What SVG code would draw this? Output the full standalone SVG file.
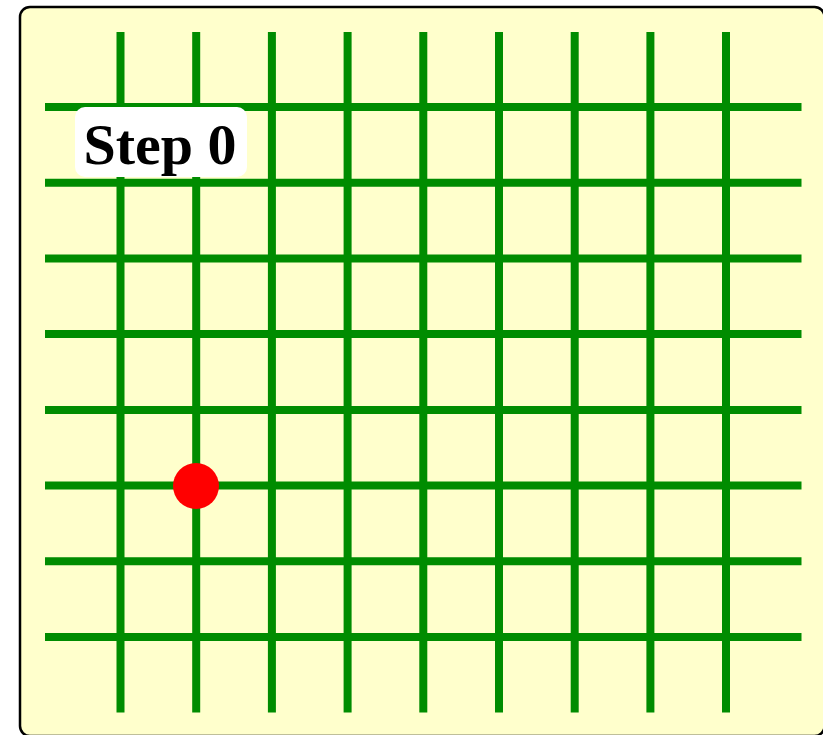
<svg xmlns="http://www.w3.org/2000/svg" width="823" height="735" viewBox="0 0 823 735">
<style>
.g{stroke:#008c00;stroke-width:8;fill:none}
.lbl{font-family:"Liberation Serif",serif;font-weight:bold;font-size:58px;fill:#000}
</style>
<rect x="20" y="7" width="804.5" height="729" rx="10" ry="10" fill="#ffffcc" stroke="#000" stroke-width="2.5"/>
<g id="grid" class="g">
<path d="M120.5 32V712.5M196.2 32V712.5M271.9 32V712.5M347.6 32V712.5M423.3 32V712.5M499 32V712.5M574.7 32V712.5M650.4 32V712.5M726 32V712.5"/>
<path d="M45 107H801.5M45 182.7H801.5M45 258.4H801.5M45 334.1H801.5M45 409.9H801.5M45 485.6H801.5M45 561.3H801.5M45 637H801.5"/>
</g>
<g id="label">
<rect x="75" y="107" width="172" height="70" rx="10" ry="10" fill="#fff"/>
<text class="lbl" x="160" y="164" text-anchor="middle">Step 0</text>
</g>
<g id="dot">
<circle cx="196" cy="486" r="23" fill="#ff0000"/>
</g>
</svg>
